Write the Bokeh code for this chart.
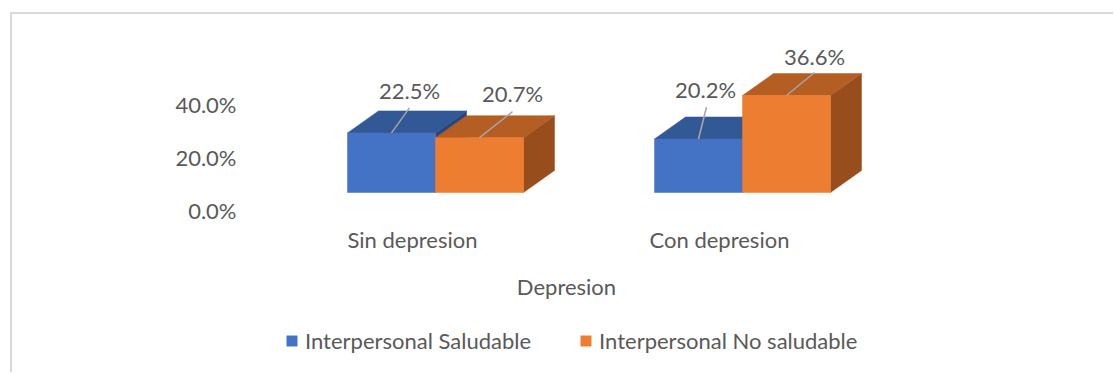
from bokeh.plotting import figure
from bokeh.models import (ColumnDataSource, Range1d, LinearAxis, FixedTicker,
                          Legend, LegendItem, CustomJSTickFormatter)
from bokeh.core.properties import value
from bokeh.embed import file_html
from bokeh.resources import INLINE

# ---- data -------------------------------------------------------------
categories = ["Sin depresion", "Con depresion"]
series_names = ["Interpersonal Saludable", "Interpersonal No saludable"]
saludable = [22.5, 20.2]
no_saludable = [20.7, 36.6]
y_ticks = [0, 20, 40]
x_title = "Depresion"

# ---- layout / style ---------------------------------------------------
PX_X = 307.0          # pixels per category step
PX_Y = 2.65           # pixels per percentage point
BAR_W = 88 / PX_X     # width of one bar front face (data units)
DEPTH_X = 31 / PX_X   # 3D depth offset, horizontal
DEPTH_Y = 22 / PX_Y   # 3D depth offset, vertical
FONT = "Lato"
FS = "22px"
TXT = "#595959"

BLUE = dict(front="#4472C4", top="#325896", side="#28467A")
ORANGE = dict(front="#ED7D31", top="#B45E24", side="#984E1C")

# label offsets from the top-centre of each front face (pixels, +y = down)
label_off = [[(18, -42), (7, -49)], [(33, -44), (28, -39)]]
leader_off = [[(18, -25), (8, -32)], [(33, -26), (28, -23)]]

W, H = 1103, 360
FRAME_L, FRAME_R, FRAME_T, FRAME_B = 233, 875, 16, H     # within figure
BASE_Y = 178                                             # pixel row of 0 %
AXIS_Y = 200                                             # pixel row of category axis
GROUP0_X = 423                                           # pixel col of first group

x_start = (FRAME_L - GROUP0_X) / PX_X
x_end = (FRAME_R - GROUP0_X) / PX_X
y_start = -(FRAME_B - BASE_Y) / PX_Y
y_end = (BASE_Y - FRAME_T) / PX_Y

p = figure(width=W, height=H, output_backend="svg", toolbar_location=None,
           x_range=Range1d(x_start, x_end), y_range=Range1d(y_start, y_end),
           x_axis_location=None, y_axis_location=None,
           min_border_left=FRAME_L, min_border_right=W - FRAME_R,
           min_border_top=FRAME_T, min_border_bottom=0)
p.outline_line_color = None
p.grid.grid_line_color = None
p.background_fill_color = "white"
p.border_fill_color = "white"
p.styles = {"margin-left": "10px", "margin-top": "12px",
            "border-left": "2px solid #d9d9d9", "border-top": "2px solid #d9d9d9"}

# value axis: labels sit on the floor plane, slightly below the front edge
shift_y = 18 / PX_Y
p.extra_y_ranges = {"val": Range1d(y_start + shift_y, y_end + shift_y)}
yax = LinearAxis(y_range_name="val", ticker=FixedTicker(ticks=y_ticks),
                 formatter=CustomJSTickFormatter(code="return tick.toFixed(1) + '%';"))
yax.axis_line_color = None
yax.major_tick_line_color = None
yax.minor_tick_line_color = None
yax.major_label_text_font = FONT
yax.major_label_text_font_size = FS
yax.major_label_text_color = TXT
yax.major_label_standoff = 3
p.add_layout(yax, "left")

# category axis, pinned just under the bars
shift_x = 23 / PX_X
p.extra_x_ranges = {"cat": Range1d(x_start + shift_x, x_end + shift_x)}
xax = LinearAxis(x_range_name="cat", ticker=FixedTicker(ticks=list(range(len(categories)))),
                 major_label_overrides={i: c for i, c in enumerate(categories)},
                 axis_label=x_title, fixed_location=-(AXIS_Y - BASE_Y) / PX_Y)
xax.axis_line_color = None
xax.major_tick_line_color = None
xax.minor_tick_line_color = None
xax.major_label_text_font = FONT
xax.major_label_text_font_size = FS
xax.major_label_text_color = TXT
xax.major_label_standoff = 5
xax.axis_label_text_font = FONT
xax.axis_label_text_font_size = FS
xax.axis_label_text_color = TXT
xax.axis_label_text_font_style = "normal"
xax.axis_label_standoff = 17
p.add_layout(xax, "below")


def draw_series(vals, left_shift, colors):
    xs = list(range(len(vals)))
    left = [x + left_shift for x in xs]
    right = [l + BAR_W for l in left]
    top_xs = [[l, r, r + DEPTH_X, l + DEPTH_X] for l, r in zip(left, right)]
    top_ys = [[v, v, v + DEPTH_Y, v + DEPTH_Y] for v in vals]
    side_xs = [[r, r, r + DEPTH_X, r + DEPTH_X] for r in right]
    side_ys = [[0, v, v + DEPTH_Y, DEPTH_Y] for v in vals]
    p.patches(side_xs, side_ys, fill_color=colors["side"], line_color=colors["side"], line_width=0.5)
    p.patches(top_xs, top_ys, fill_color=colors["top"], line_color=colors["top"], line_width=0.5)
    src = ColumnDataSource(dict(left=left, right=right, top=vals, bottom=[0] * len(vals)))
    return p.quad(left="left", right="right", top="top", bottom="bottom", source=src,
                  fill_color=colors["front"], line_color=colors["front"], line_width=0.5)


r_blue = draw_series(saludable, -BAR_W, BLUE)
r_orange = draw_series(no_saludable, 0.0, ORANGE)

# data labels with leader lines
for s, (vals, shift) in enumerate([(saludable, -BAR_W / 2), (no_saludable, BAR_W / 2)]):
    cx = [i + shift for i in range(len(vals))]
    x0, y0, x1, y1, tx, ty, tt = [], [], [], [], [], [], []
    for i, v in enumerate(vals):
        lx, ly = leader_off[s][i]
        ox, oy = label_off[s][i]
        x0.append(cx[i]); y0.append(v)
        x1.append(cx[i] + lx / PX_X); y1.append(v - ly / PX_Y)
        tx.append(cx[i] + ox / PX_X); ty.append(v - oy / PX_Y)
        tt.append(f"{v:.1f}%")
    p.segment(x0, y0, x1, y1, line_color="#a6a6a6", line_width=1.5)
    p.text(tx, ty, text=tt, text_font=value(FONT), text_font_size=FS, text_color=TXT,
           text_align="center", text_baseline="middle")

# legend placed under the axis title (offsets from the frame's bottom-left)
legend = Legend(items=[LegendItem(label=series_names[0], renderers=[r_blue]),
                       LegendItem(label=series_names[1], renderers=[r_orange])],
                orientation="horizontal", location=(40, 20),
                label_text_font=FONT, label_text_font_size=FS, label_text_color=TXT,
                glyph_width=13, glyph_height=13, label_standoff=7, spacing=48,
                border_line_color=None, background_fill_alpha=0, margin=0, padding=0)
p.add_layout(legend)

open("out.html", "w").write(file_html(p, INLINE))
